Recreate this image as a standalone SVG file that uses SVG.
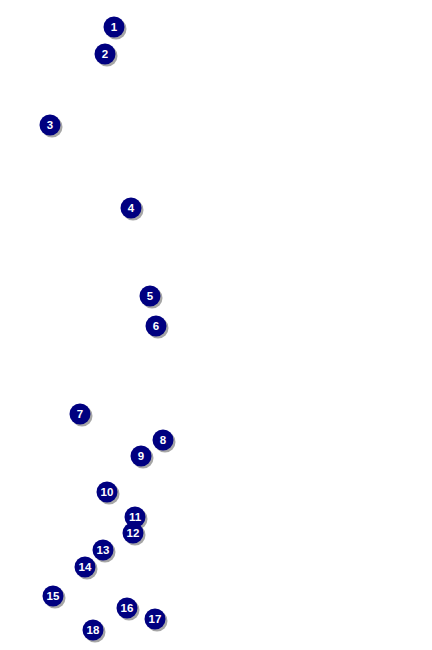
<svg xmlns="http://www.w3.org/2000/svg" width="432" height="650" viewBox="0 0 432 650">
<style>
.sh{fill:#888;opacity:0.75}
.b{fill:#000080}
.t{fill:#fff;font-family:"Liberation Sans",Arial,sans-serif;font-weight:bold;font-size:11.5px;text-anchor:middle}
</style>
<defs>
<g id="m"><circle class="sh" cx="2" cy="2" r="10.5"/><circle class="b" r="10.5"/></g>
</defs>
<rect width="432" height="650" fill="#fff"/>
<g id="n1"><use href="#m" x="114" y="27"/><text class="t" x="114" y="31">1</text></g>
<g id="n2"><use href="#m" x="105" y="54"/><text class="t" x="105" y="58">2</text></g>
<g id="n3"><use href="#m" x="50" y="125"/><text class="t" x="50" y="129">3</text></g>
<g id="n4"><use href="#m" x="131" y="208"/><text class="t" x="131" y="212">4</text></g>
<g id="n5"><use href="#m" x="150" y="296"/><text class="t" x="150" y="300">5</text></g>
<g id="n6"><use href="#m" x="156" y="326"/><text class="t" x="156" y="330">6</text></g>
<g id="n7"><use href="#m" x="80" y="414"/><text class="t" x="80" y="418">7</text></g>
<g id="n8"><use href="#m" x="163" y="440"/><text class="t" x="163" y="444">8</text></g>
<g id="n9"><use href="#m" x="141" y="456"/><text class="t" x="141" y="460">9</text></g>
<g id="n10"><use href="#m" x="107" y="492"/><text class="t" x="107" y="496">10</text></g>
<g id="n11"><use href="#m" x="135" y="517"/><text class="t" x="135" y="521">11</text></g>
<g id="n12"><use href="#m" x="133" y="533"/><text class="t" x="133" y="537">12</text></g>
<g id="n13"><use href="#m" x="103" y="550"/><text class="t" x="103" y="554">13</text></g>
<g id="n14"><use href="#m" x="85" y="567"/><text class="t" x="85" y="571">14</text></g>
<g id="n15"><use href="#m" x="53" y="596"/><text class="t" x="53" y="600">15</text></g>
<g id="n16"><use href="#m" x="127" y="608"/><text class="t" x="127" y="612">16</text></g>
<g id="n17"><use href="#m" x="155" y="619"/><text class="t" x="155" y="623">17</text></g>
<g id="n18"><use href="#m" x="93" y="630"/><text class="t" x="93" y="634">18</text></g>
<g id="connectors"></g>
</svg>
